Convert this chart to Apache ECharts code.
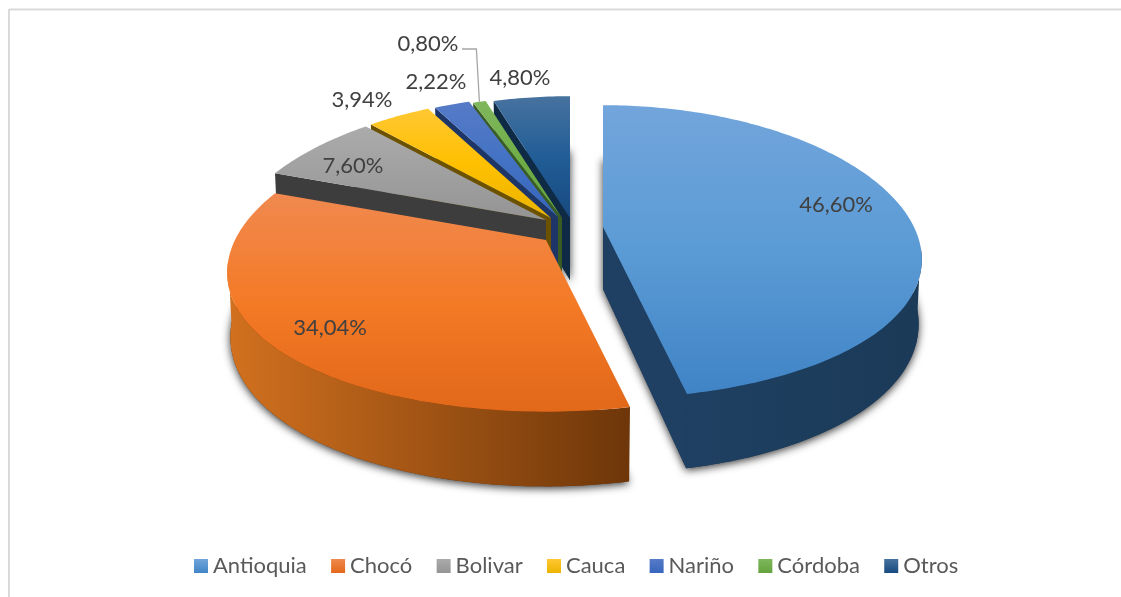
<!DOCTYPE html>
<html>
<head>
<meta charset="utf-8">
<style>
  html, body { margin: 0; padding: 0; background: #fff; }
  #chart { width: 1121px; height: 597px; }
</style>
<script src="https://cdn.jsdelivr.net/npm/echarts@6/dist/echarts.min.js"></script>
</head>
<body>
<div id="chart"></div>
<script>
const categories = ['Antioquia', 'Chocó', 'Bolivar', 'Cauca', 'Nariño', 'Córdoba', 'Otros'];
const values = [46.6, 34.04, 7.6, 3.94, 2.22, 0.8, 4.8];

// top face gradient, side wall gradient
const topColors = [
  ['#72a5db', '#5b9bd5', '#4084c6'],
  ['#f0894f', '#f47a26', '#e2681a'],
  ['#ababab', '#a0a0a0', '#949494'],
  ['#ffc733', '#ffc000', '#ebb400'],
  ['#567bc7', '#4472c4', '#3765bd'],
  ['#7fb75d', '#70ad47', '#65a33d'],
  ['#47729f', '#215d96', '#174a80']
];
const wallColors = [
  ['#1f4062', '#1b3a58'],
  ['#d2711f', '#6e3609'],
  ['#3d3d3d', '#3d3d3d'],
  ['#7a5c00', '#6b5100'],
  ['#223a70', '#1e3568'],
  ['#40622a', '#3a5c24'],
  ['#12304e', '#0f2a45']
];

// where each exploded slice has its tip, and where its label sits
const tips = [[603, 227], [546, 240], [546, 220], [551, 218], [558, 217], [562, 218], [570, 218]];
const labelSpots = [[836, 205], [330, 328], [353, 166], [362, 100], [436, 82], [428, 44], [520, 78]];
const paintOrder = [6, 5, 4, 3, 2, 0, 1]; // back to front

const RX = 311, RY = 142.5, DEPTH = 62, KX = 0.22, KY = 0.17;
const START = 0;
const total = values.reduce((a, b) => a + b, 0);

function point(i, deg, r, lowered) {
  const t = deg * Math.PI / 180;
  const x = r * Math.sin(t), y = r * Math.cos(t);
  const px = 1 / (1 + KX * y), py = 1 / (1 + KY * y);
  const shrink = lowered ? 0.99 : 1;
  return [
    tips[i][0] + RX * x * px * shrink,
    tips[i][1] - RY * y * py + (lowered ? DEPTH * py : 0)
  ];
}

function arc(i, from, to, lowered) {
  const pts = [];
  const n = Math.max(2, Math.ceil(Math.abs(to - from)));
  for (let k = 0; k <= n; k++) pts.push(point(i, from + (to - from) * k / n, 1, lowered));
  return pts;
}

function gradient(x2, y2, colors) {
  return new echarts.graphic.LinearGradient(0, 0, x2, y2,
    colors.map((c, k) => ({ offset: k / (colors.length - 1), color: c })));
}

function radialWall(i, deg, fill) {
  return {
    type: 'polygon',
    shape: { points: [point(i, deg, 1, false), point(i, 0, 0, false), point(i, 0, 0, true), point(i, deg, 1, true)] },
    style: { fill: fill }
  };
}

function sliceItem(i, value) {
  const before = values.slice(0, i).reduce((a, b) => a + b, 0);
  const from = START + before / total * 360;
  const to = from + value / total * 360;
  const wall = gradient(1, 0, wallColors[i]);
  const sinFrom = Math.sin(from * Math.PI / 180), sinTo = Math.sin(to * Math.PI / 180);
  const children = [];

  // lower face throws the soft shadow
  children.push({
    type: 'polygon',
    shape: { points: [point(i, 0, 0, true)].concat(arc(i, from, to, true)) },
    style: { fill: wallColors[i][1], shadowBlur: 9, shadowColor: 'rgba(0,0,0,0.8)', shadowOffsetY: 2 }
  });
  if (sinFrom < 0) children.push(radialWall(i, from, wallColors[i][1]));
  if (sinTo > 0) children.push(radialWall(i, to, wallColors[i][0]));

  // outer rim, front part only
  const a = Math.max(from, 98), b = Math.min(to, 262);
  if (b > a) {
    children.push({
      type: 'polygon',
      shape: { points: arc(i, a, b, false).concat(arc(i, b, a, true)) },
      style: { fill: wall }
    });
  }

  children.push({
    type: 'polygon',
    shape: { points: [point(i, 0, 0, false)].concat(arc(i, from, to, false)) },
    style: { fill: gradient(0, 1, topColors[i]) }
  });

  if (i === 5) {
    const tipPt = point(i, (from + to) / 2, 1, false);
    children.push({
      type: 'polyline',
      shape: { points: [[labelSpots[i][0] + 34, labelSpots[i][1] + 5], [tipPt[0] - 3, labelSpots[i][1] + 5], tipPt] },
      style: { stroke: '#a6a6a6', lineWidth: 1.3, fill: 'none' }
    });
  }

  children.push({
    type: 'text',
    z2: 10,
    style: {
      x: labelSpots[i][0],
      y: labelSpots[i][1],
      text: value.toFixed(2).replace('.', ',') + '%',
      fill: '#404040',
      font: '22px Lato',
      align: 'center',
      verticalAlign: 'middle'
    }
  });
  return { type: 'group', children: children };
}

const chart = echarts.init(document.getElementById('chart'), null, { renderer: 'canvas' });

chart.setOption({
  animation: false,
  backgroundColor: '#fff',
  legend: {
    data: categories,
    left: 189,
    top: 550,
    icon: 'rect',
    itemWidth: 14,
    itemHeight: 14,
    itemGap: 24.3,
    selectedMode: false,
    textStyle: { color: '#595959', fontSize: 22, fontFamily: 'Lato' }
  },
  graphic: [
    { type: 'line', shape: { x1: 9, y1: 9.5, x2: 1121, y2: 9.5 }, style: { stroke: '#dadada', lineWidth: 2 } },
    { type: 'line', shape: { x1: 9, y1: 9, x2: 9, y2: 597 }, style: { stroke: '#dadada', lineWidth: 2 } }
  ],
  series: categories.map((name, i) => ({
    type: 'custom',
    name: name,
    coordinateSystem: 'none',
    z: 2 + paintOrder.indexOf(i),
    silent: true,
    itemStyle: { color: gradient(0, 1, [topColors[i][0], topColors[i][2]]) },
    data: [{ name: name, value: values[i] }],
    renderItem: (params, api) => sliceItem(i, api.value(0))
  }))
});

window.addEventListener('resize', chart.resize);
</script>
</body>
</html>
